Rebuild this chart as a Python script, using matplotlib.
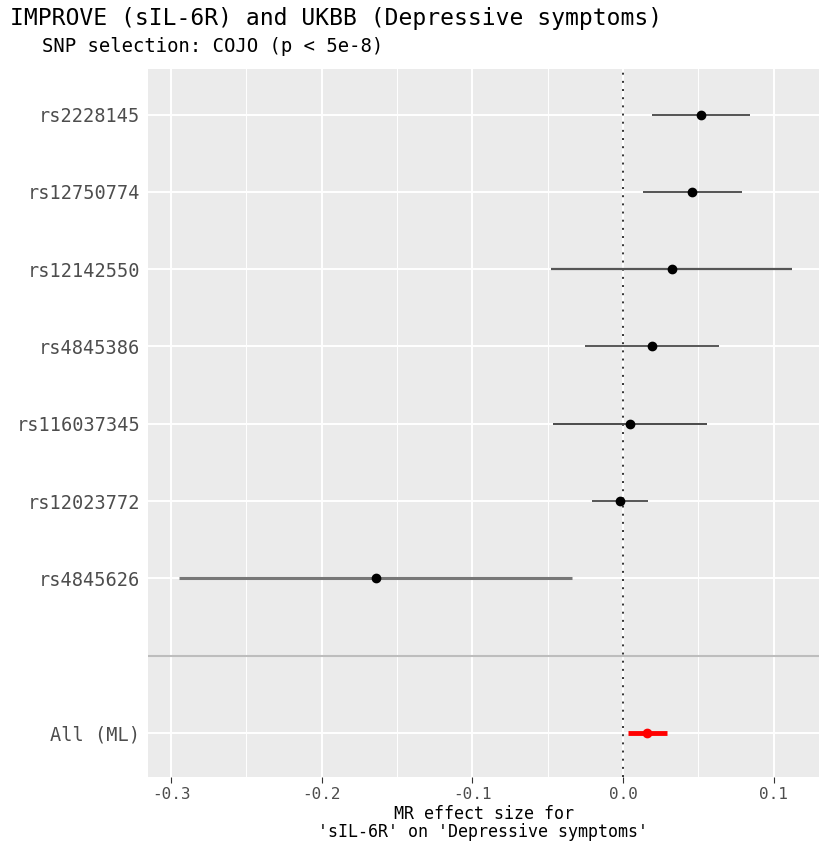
import numpy as np
import matplotlib
matplotlib.use("Agg")
import matplotlib.pyplot as plt

# SNP level MR estimates (top to bottom)
snps = ["rs2228145", "rs12750774", "rs12142550", "rs4845386",
        "rs116037345", "rs12023772", "rs4845626"]
est = [0.0516, 0.0458, 0.0323, 0.0192, 0.0046, -0.0020, -0.1642]
lo = [0.0190, 0.0133, -0.0478, -0.0252, -0.0465, -0.0206, -0.2944]
hi = [0.0843, 0.0788, 0.1123, 0.0637, 0.0557, 0.0166, -0.0340]
line_col = ["#454545", "#454545", "#555555", "#4a4a4a", "#4a4a4a", "#3a3a3a", "#777777"]
line_w = [1.3, 1.3, 1.6, 1.3, 1.4, 1.2, 2.2]

# overall estimate
all_label = "All (ML)"
all_est, all_lo, all_hi = 0.0159, 0.0033, 0.0292

xticks = [-0.3, -0.2, -0.1, 0.0, 0.1]
mono = "DejaVu Sans Mono"

fig = plt.figure(figsize=(8.19, 8.46), dpi=100)
ax = fig.add_axes([148/819, 69/846, 1 - 148/819, (777 - 69)/846])
ax.set_facecolor("#ebebeb")

ypos = np.arange(len(snps) + 1, 1, -1)  # 8 .. 2

# grid
for x in np.arange(-0.35, 0.15, 0.1):
    ax.axvline(x, color="white", lw=0.7, zorder=0)
for x in xticks:
    ax.axvline(x, color="white", lw=1.4, zorder=0)
for y in list(ypos) + [0]:
    ax.axhline(y, color="white", lw=1.4, zorder=0)

# separator between SNPs and overall
ax.axhline(1, color="#bdbdbd", lw=1.5, zorder=1)
ax.axvline(0, color="#333333", lw=1.4, ls=(0, (1, 3.2)), zorder=1)

for i in range(len(snps)):
    ax.plot([lo[i], hi[i]], [ypos[i], ypos[i]], color=line_col[i], lw=line_w[i],
            solid_capstyle="butt", zorder=2)
    ax.plot(est[i], ypos[i], "o", color="black", ms=6, zorder=3)

ax.plot([all_lo, all_hi], [0, 0], color="red", lw=3.5, solid_capstyle="butt", zorder=2)
ax.plot(all_est, 0, "o", color="red", ms=6, zorder=3)

ax.set_xlim(-0.3153, 0.130)
ax.set_ylim(-0.57, 8.59)
ax.set_yticks(list(ypos) + [0])
ax.set_yticklabels(snps + [all_label], family=mono, fontsize=13.4, color="#4d4d4d")
ax.set_xticks(xticks)
ax.set_xticklabels(["-0.3", "-0.2", "-0.1", "0.0", "0.1"], family=mono,
                   fontsize=11.5, color="#4d4d4d")
ax.tick_params(axis="x", length=4, color="#333333", pad=3)
ax.tick_params(axis="y", length=0, pad=5.5)
for s in ax.spines.values():
    s.set_visible(False)

ax.set_xlabel("MR effect size for\n'sIL-6R' on 'Depressive symptoms'",
              family=mono, fontsize=12, color="black", labelpad=2, linespacing=1.0)

fig.text(10/819, 1 - 18/846, "IMPROVE (sIL-6R) and UKBB (Depressive symptoms)",
         family=mono, fontsize=16.6, va="center", ha="left")
fig.text(42/819, 1 - 47/846, "SNP selection: COJO (p < 5e-8)",
         family=mono, fontsize=13.6, va="center", ha="left")

fig.savefig("out.png", dpi=100)
